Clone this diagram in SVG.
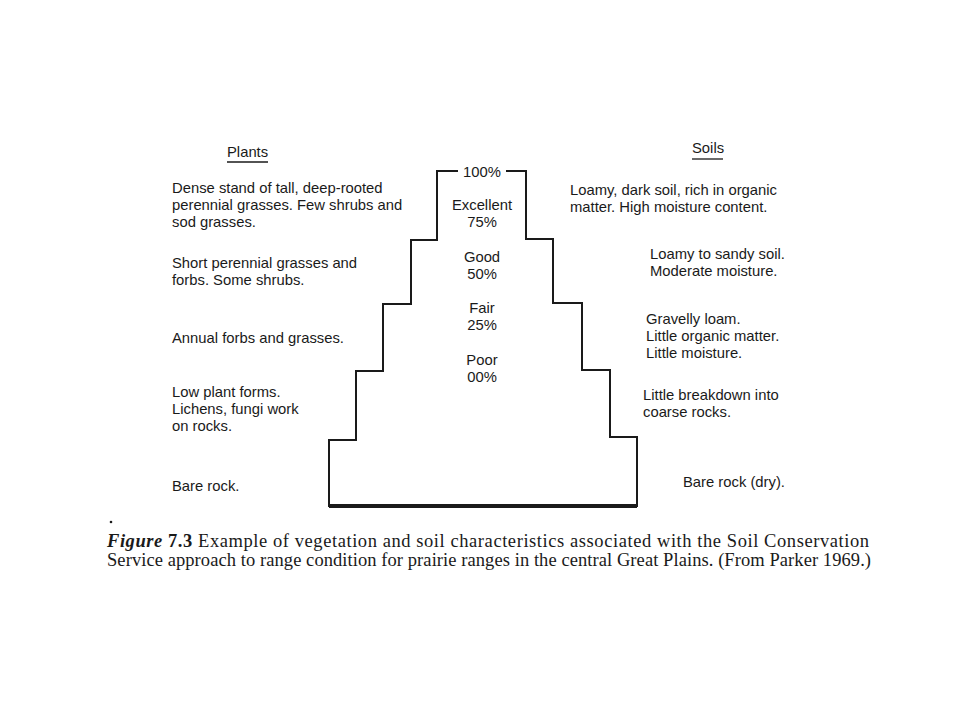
<svg xmlns="http://www.w3.org/2000/svg" width="960" height="720" viewBox="0 0 960 720">
<style>
.t{font-family:"Liberation Sans",Arial,Helvetica,sans-serif;font-size:14.8px;fill:#1a1a1a}
.c{text-anchor:middle}
.ln{fill:none;stroke:#1a1a1a;stroke-width:2;stroke-linecap:square;stroke-linejoin:miter}
.ul{stroke:#1a1a1a;stroke-width:1.3}
.cap{font-family:"Liberation Serif","Times New Roman",serif;font-size:18.5px;fill:#1a1a1a}
</style>
<rect width="960" height="720" fill="#ffffff"/>
<g id="staircase">
<polyline class="ln" points="457,171 437,171 437,240 411,240 411,304 383,304 383,371 356,371 356,440 329,440 329,506"/>
<polyline class="ln" points="507,171 526,171 526,239 553,239 553,303 582,303 582,370 610,370 610,437 637,437 637,506"/>
<line x1="329" y1="506" x2="637" y2="506" stroke="#1a1a1a" stroke-width="4"/>
</g>
<g id="levels">
<text class="t c" x="482" y="177">100%</text>
<text class="t c" x="482" y="210">Excellent</text>
<text class="t c" x="482" y="227">75%</text>
<text class="t c" x="482" y="262">Good</text>
<text class="t c" x="482" y="279">50%</text>
<text class="t c" x="482" y="313">Fair</text>
<text class="t c" x="482" y="330">25%</text>
<text class="t c" x="482" y="365">Poor</text>
<text class="t c" x="482" y="382">00%</text>
</g>
<g id="plants-header">
<text class="t" x="227" y="157">Plants</text>
<line class="ul" x1="227" y1="162" x2="268" y2="162"/>
</g>
<g id="plants-excellent">
<text class="t" x="172" y="193">Dense stand of tall, deep-rooted</text>
<text class="t" x="172" y="210">perennial grasses. Few shrubs and</text>
<text class="t" x="172" y="227">sod grasses.</text>
</g>
<g id="plants-good">
<text class="t" x="172" y="268">Short perennial grasses and</text>
<text class="t" x="172" y="285">forbs. Some shrubs.</text>
</g>
<g id="plants-fair">
<text class="t" x="172" y="343">Annual forbs and grasses.</text>
</g>
<g id="plants-poor">
<text class="t" x="172" y="397">Low plant forms.</text>
<text class="t" x="172" y="414">Lichens, fungi work</text>
<text class="t" x="172" y="431">on rocks.</text>
</g>
<g id="plants-bare">
<text class="t" x="172" y="491">Bare rock.</text>
</g>
<g id="soils-header">
<text class="t" x="692" y="153">Soils</text>
<line class="ul" x1="692" y1="159" x2="723" y2="159"/>
</g>
<g id="soils-excellent">
<text class="t" x="570" y="195">Loamy, dark soil, rich in organic</text>
<text class="t" x="570" y="212">matter. High moisture content.</text>
</g>
<g id="soils-good">
<text class="t" x="650" y="259">Loamy to sandy soil.</text>
<text class="t" x="650" y="276">Moderate moisture.</text>
</g>
<g id="soils-fair">
<text class="t" x="646" y="324">Gravelly loam.</text>
<text class="t" x="646" y="341">Little organic matter.</text>
<text class="t" x="646" y="358">Little moisture.</text>
</g>
<g id="soils-poor">
<text class="t" x="643" y="400">Little breakdown into</text>
<text class="t" x="643" y="417">coarse rocks.</text>
</g>
<g id="soils-bare">
<text class="t" x="683" y="487">Bare rock (dry).</text>
</g>
<circle cx="111" cy="522" r="1.3" fill="#1a1a1a"/>
<g id="caption">
<text class="cap" x="107" y="547" textLength="762" lengthAdjust="spacing"><tspan font-weight="bold" font-style="italic">Figure</tspan> <tspan font-weight="bold">7.3</tspan> Example of vegetation and soil characteristics associated with the Soil Conservation</text>
<text class="cap" x="107" y="566" textLength="764" lengthAdjust="spacing">Service approach to range condition for prairie ranges in the central Great Plains. (From Parker 1969.)</text>
</g>
</svg>
